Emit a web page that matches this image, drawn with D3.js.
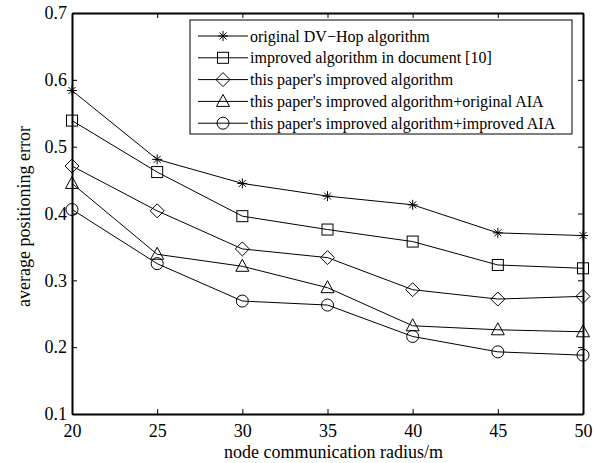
<!DOCTYPE html>
<html><head><meta charset="utf-8">
<script src="https://cdn.jsdelivr.net/npm/d3@7/dist/d3.min.js"></script>
<style>body{margin:0;background:#fff;} svg{display:block;} svg text{font-family:"Liberation Serif","Times New Roman",serif !important;fill:#000;}</style>
</head><body>
<script>
const radius = [20, 25, 30, 35, 40, 45, 50];
const seriesNames = [
  "original DV\u2212Hop algorithm",
  "improved algorithm in document [10]",
  "this paper's improved algorithm",
  "this paper's improved algorithm+original AIA",
  "this paper's improved algorithm+improved AIA"
];
const dvHop = [0.584, 0.481, 0.445, 0.426, 0.413, 0.371, 0.367];
const doc10 = [0.539, 0.462, 0.396, 0.376, 0.358, 0.323, 0.318];
const improved = [0.471, 0.404, 0.347, 0.334, 0.286, 0.272, 0.276];
const improvedOrigAIA = [0.445, 0.339, 0.321, 0.289, 0.232, 0.226, 0.223];
const improvedImpAIA = [0.406, 0.325, 0.269, 0.263, 0.216, 0.193, 0.188];
const markers = ["star", "square", "diamond", "triangle", "circle"];
const xTicks = [20, 25, 30, 35, 40, 45, 50];
const yTicks = [0.1, 0.2, 0.3, 0.4, 0.5, 0.6, 0.7];

const W = 595, H = 463;
const m = {l: 72, r: 12, t: 13, b: 49};
const svg = d3.select("body").append("svg").attr("width", W).attr("height", H);
const x = d3.scaleLinear().domain([20, 50]).range([m.l, W - m.r]);
const y = d3.scaleLinear().domain([0.1, 0.7]).range([H - m.b, m.t]);
const data = [dvHop, doc10, improved, improvedOrigAIA, improvedImpAIA];

function drawMarker(g, type, cx, cy) {
  const s = g.append("g").attr("transform", `translate(${cx},${cy})`)
    .attr("fill", "none").attr("stroke", "#000").attr("stroke-width", 1);
  if (type === "star") {
    const r = 5;
    s.append("path").attr("d", `M${-r},0H${r}M0,${-r}V${r}M${-r*0.7},${-r*0.7}L${r*0.7},${r*0.7}M${-r*0.7},${r*0.7}L${r*0.7},${-r*0.7}`);
  } else if (type === "square") {
    s.append("rect").attr("x", -5.5).attr("y", -5.5).attr("width", 11).attr("height", 11);
  } else if (type === "diamond") {
    const r = 7;
    s.append("path").attr("d", `M0,${-r}L${r},0L0,${r}L${-r},0Z`);
  } else if (type === "triangle") {
    s.append("path").attr("d", `M0,-7L6.5,5L-6.5,5Z`);
  } else if (type === "circle") {
    s.append("circle").attr("r", 6);
  }
}

// series
const line = d3.line().x((d, i) => x(radius[i])).y(d => y(d));
data.forEach((vals, k) => {
  svg.append("path").datum(vals).attr("d", line)
    .attr("fill", "none").attr("stroke", "#000").attr("stroke-width", 1);
  const g = svg.append("g");
  vals.forEach((v, i) => drawMarker(g, markers[k], x(radius[i]), y(v)));
});

// axes (box with inward ticks on all sides)
const tl = 5;
const axB = svg.append("g").attr("transform", `translate(0,${H - m.b})`)
  .call(d3.axisBottom(x).tickValues(xTicks).tickSizeInner(-tl).tickSizeOuter(0).tickPadding(10));
const axT = svg.append("g").attr("transform", `translate(0,${m.t})`)
  .call(d3.axisTop(x).tickValues(xTicks).tickSizeInner(-tl).tickSizeOuter(0).tickFormat(""));
const axL = svg.append("g").attr("transform", `translate(${m.l},0)`)
  .call(d3.axisLeft(y).tickValues(yTicks).tickSizeInner(-tl).tickSizeOuter(0).tickPadding(5).tickFormat(d3.format(".1f")));
const axR = svg.append("g").attr("transform", `translate(${W - m.r},0)`)
  .call(d3.axisRight(y).tickValues(yTicks).tickSizeInner(-tl).tickSizeOuter(0).tickFormat(""));
[axB, axT, axL, axR].forEach(a => {
  a.attr("font-family", null).attr("font-size", null);
  a.selectAll(".domain").attr("stroke", "#000").attr("stroke-width", 2);
  a.selectAll(".tick line").attr("stroke", "#000").attr("stroke-width", 1);
  a.selectAll("text").style("font-size", "18px").attr("fill", "#000");
});

// axis labels
svg.append("text").attr("x", (m.l + W - m.r) / 2 + 6).attr("y", 458)
  .attr("text-anchor", "middle").style("font-size", "18px").text("node communication radius/m");
svg.append("text").attr("transform", `translate(30,${(m.t + H - m.b) / 2 + 3}) rotate(-90)`)
  .attr("text-anchor", "middle").style("font-size", "18px").text("average positioning error");

// legend
const lg = svg.append("g");
lg.append("rect").attr("x", 190).attr("y", 20).attr("width", 382).attr("height", 114)
  .attr("fill", "#fff").attr("stroke", "#000").attr("stroke-width", 1);
seriesNames.forEach((name, k) => {
  const ry = 36 + k * 21.8;
  lg.append("line").attr("x1", 198).attr("x2", 248).attr("y1", ry).attr("y2", ry)
    .attr("stroke", "#000").attr("stroke-width", 1);
  drawMarker(lg, markers[k], 223, ry);
  lg.append("text").attr("x", 250).attr("y", ry).attr("dy", "0.35em")
    .style("font-size", "16px").text(name);
});
</script>
</body></html>
